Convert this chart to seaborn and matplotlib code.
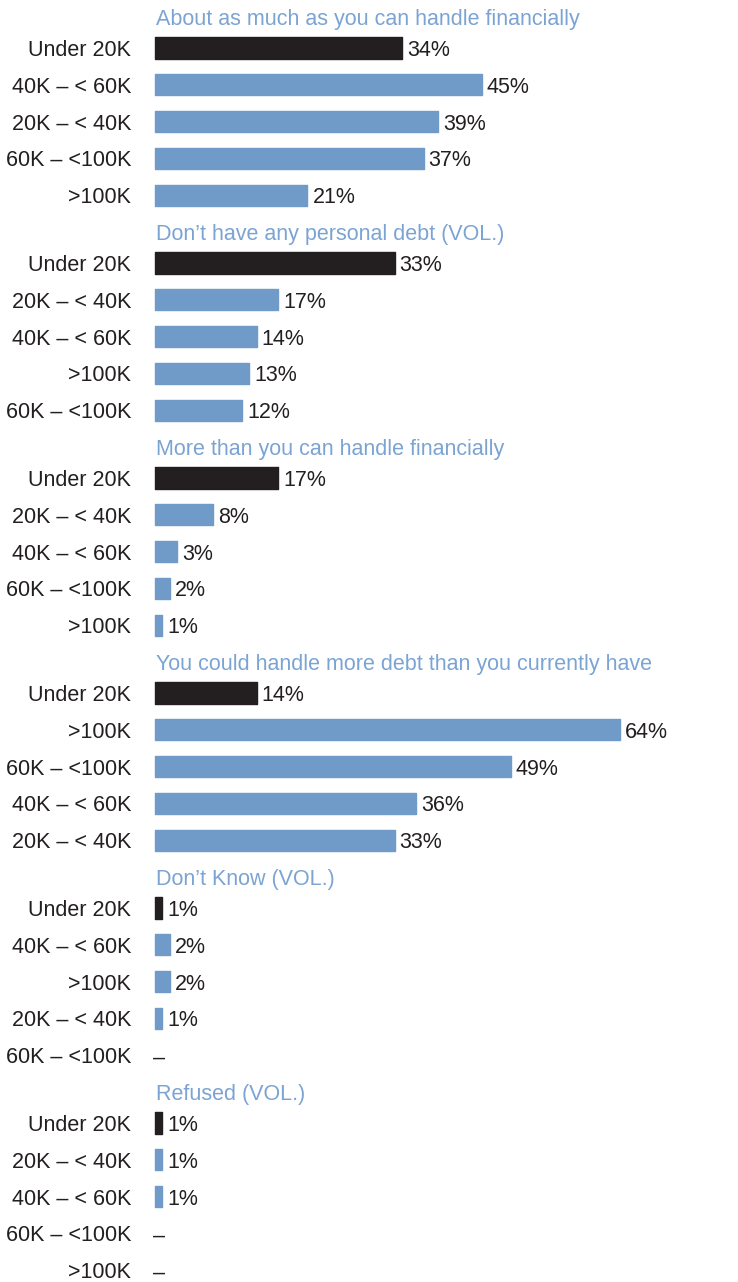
import matplotlib
matplotlib.use("Agg")
import matplotlib.pyplot as plt
import seaborn as sns
import pandas as pd
import numpy as np

# Survey responses by household income, one panel per answer
titles = [
    "About as much as you can handle financially",
    "Don\u2019t have any personal debt (VOL.)",
    "More than you can handle financially",
    "You could handle more debt than you currently have",
    "Don\u2019t Know (VOL.)",
    "Refused (VOL.)",
]
incomes_1 = ["Under 20K", "40K \u2013 < 60K", "20K \u2013 < 40K", "60K \u2013 <100K", ">100K"]
values_1 = [34, 45, 39, 37, 21]
incomes_2 = ["Under 20K", "20K \u2013 < 40K", "40K \u2013 < 60K", ">100K", "60K \u2013 <100K"]
values_2 = [33, 17, 14, 13, 12]
incomes_3 = ["Under 20K", "20K \u2013 < 40K", "40K \u2013 < 60K", "60K \u2013 <100K", ">100K"]
values_3 = [17, 8, 3, 2, 1]
incomes_4 = ["Under 20K", ">100K", "60K \u2013 <100K", "40K \u2013 < 60K", "20K \u2013 < 40K"]
values_4 = [14, 64, 49, 36, 33]
incomes_5 = ["Under 20K", "40K \u2013 < 60K", ">100K", "20K \u2013 < 40K", "60K \u2013 <100K"]
values_5 = [1, 2, 2, 1, None]
incomes_6 = ["Under 20K", "20K \u2013 < 40K", "40K \u2013 < 60K", "60K \u2013 <100K", ">100K"]
values_6 = [1, 1, 1, None, None]

incomes = [incomes_1, incomes_2, incomes_3, incomes_4, incomes_5, incomes_6]
values = [values_1, values_2, values_3, values_4, values_5, values_6]

BLUE = "#709bc8"
BLACK = "#231f20"
TITLE_BLUE = "#7ba4d3"
TEXT = "#231f20"

sns.set_theme(style="white")
plt.rcParams["font.family"] = ["DejaVu Sans Condensed", "Liberation Sans Narrow",
                               "Liberation Sans", "DejaVu Sans"]
plt.rcParams["font.stretch"] = "condensed"

W, H = 738, 1282
fig = plt.figure(figsize=(W / 100, H / 100), dpi=100)
ax = fig.add_axes([0, 0, 1, 1])

# layout: row unit and group stride, in rows
row_px = 36.8
first_px = 48
group_px = 215
x0_px = 155
px_per_pct = 7.26

rows = []
for g, (cats, vals) in enumerate(zip(incomes, values)):
    base = g * group_px / row_px
    for k, (c, v) in enumerate(zip(cats, vals)):
        rows.append({"group": g, "pos": base + k, "income": c, "value": v,
                     "kind": "low" if c == "Under 20K" else "other"})
df = pd.DataFrame(rows)
bars = df.dropna(subset=["value"])

sns.barplot(data=bars, x="value", y="pos", hue="kind", orient="h",
            native_scale=True, palette={"low": BLACK, "other": BLUE},
            hue_order=["low", "other"], dodge=False, width=0.58,
            legend=False, ax=ax, saturation=1)

for p in ax.patches:
    p.set_edgecolor(p.get_facecolor())
    p.set_linewidth(1.0)
    p.set_joinstyle("round")

ax.set_xlim(-x0_px / px_per_pct, (W - x0_px) / px_per_pct)
ax.set_ylim((H - first_px) / row_px, -first_px / row_px)
ax.axis("off")

fs = 15.5
label_x = -(x0_px - 131) / px_per_pct
for _, r in df.iterrows():
    ax.text(label_x, r["pos"], r["income"], ha="right", va="center_baseline",
            fontsize=fs, color=TEXT)
    if pd.isna(r["value"]):
        ax.text(-0.3, r["pos"], "\u2013", ha="left", va="center_baseline",
                fontsize=fs, color=TEXT)
    else:
        ax.annotate(f"{int(r['value'])}%", (r["value"], r["pos"]),
                    xytext=(5, 0), textcoords="offset pixels",
                    ha="left", va="center_baseline", fontsize=fs, color=TEXT)

for g, t in enumerate(titles):
    ty = g * group_px / row_px - 31 / row_px
    ax.text(0.1, ty, t, ha="left", va="center_baseline", fontsize=fs, color=TITLE_BLUE)

fig.savefig("out.png", dpi=100)
